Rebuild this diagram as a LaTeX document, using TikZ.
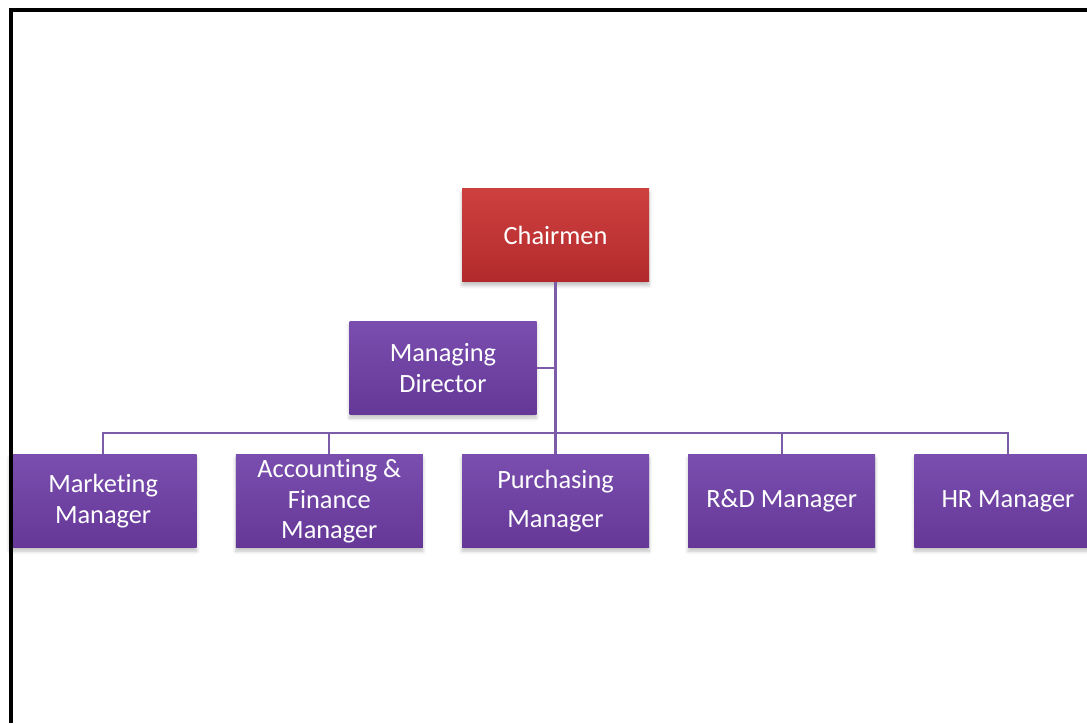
\documentclass[tikz,border=0pt]{standalone}
\usepackage{fontspec}
\setmainfont{Carlito}[Ligatures={NoCommon}]
\usepackage{xcolor}
\usetikzlibrary{positioning,shadows.blur}
\definecolor{ink}{HTML}{000000}
\definecolor{redtop}{HTML}{CE4040}
\definecolor{redbot}{HTML}{B32A2C}
\definecolor{purpletop}{HTML}{7A4EAE}
\definecolor{purplebot}{HTML}{653898}
\definecolor{linkpurple}{HTML}{7C5CA8}
\tikzset{
  every node/.style={font=\fontsize{15}{17.5}\selectfont},
  box/.style={rectangle, minimum width=3.74cm, minimum height=1.86cm, align=center, text=white, inner sep=2pt,
    blur shadow={shadow xshift=0pt, shadow yshift=-2pt, shadow blur steps=6, shadow opacity=25}},
  redbox/.style={box, top color=redtop, bottom color=redbot},
  purplebox/.style={box, top color=purpletop, bottom color=purplebot},
  link/.style={draw=linkpurple, line width=1.3pt},
  frame/.style={draw=ink, line width=2.3pt},
}

\begin{document}
\begin{tikzpicture}
\useasboundingbox (0,0) rectangle (21.74,14.46);
\node[redbox] (chair) at (11.11,9.75) {Chairmen};
\node[purplebox] (md) at (8.86,7.10) {Managing\\Director};
\node[purplebox, below=3.44cm of chair] (pur) {Purchasing\\[5pt]Manager};
\node[purplebox, left=0.77cm of pur] (acc) {Accounting \&\\Finance\\Manager};
\node[purplebox, left=0.77cm of acc] (mkt) {Marketing\\Manager};
\node[purplebox, right=0.77cm of pur] (rnd) {R\&D Manager};
\node[purplebox, right=0.77cm of rnd] (hr) {HR Manager};
% reporting lines
\foreach \n in {mkt,acc,pur,rnd,hr}
  \draw[link] (\n.north) -- ++(0,0.42) -| (chair.south);
\draw[link] (md.east) -- (md.east -| chair.south);
% page frame
\draw[frame] (0.22,0) |- (21.74,14.26);
\end{tikzpicture}
\end{document}
